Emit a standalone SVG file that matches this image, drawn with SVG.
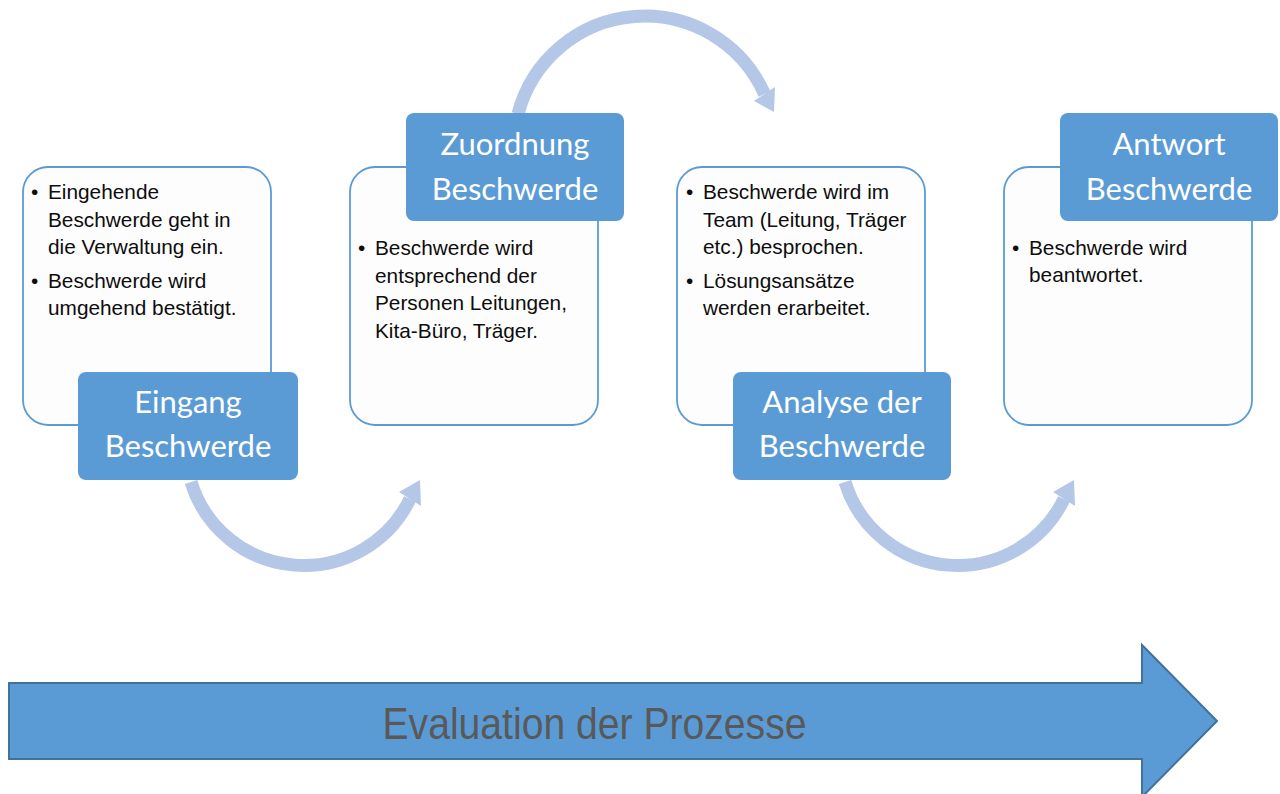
<svg xmlns="http://www.w3.org/2000/svg" width="1280" height="794" viewBox="0 0 1280 794">
<style>
.card{fill:#FDFDFD;stroke:#5B9BD5;stroke-width:1.8}
.label{fill:#5B9BD5}
.lt{font-family:Lato,"Open Sans",sans-serif;font-size:31px;fill:#FFFFFF;text-anchor:middle}
.bt{font-family:"Liberation Sans",Arial,sans-serif;font-size:20.8px;fill:#0D0D0D}
.arc{fill:none;stroke:#B4C7E7;stroke-width:13}
.head{fill:#B4C7E7}
.ev{font-family:"Liberation Sans",Arial,sans-serif;font-size:45px;fill:#595959;text-anchor:middle}
</style>
<rect width="1280" height="794" fill="#FFFFFF"/>
<g id="connectors">
<path class="arc" d="M191,482 A118,118 0 0 0 410,499"/>
<polygon class="head" points="420,480 399,492 421,506"/>
<path class="arc" d="M518,114 A131,131 0 0 1 764.5,94"/>
<polygon class="head" points="774,112 754,101 775,87"/>
<path class="arc" d="M845,482 A118,118 0 0 0 1064,499"/>
<polygon class="head" points="1074,480 1053,492 1075,506"/>
</g>
<g id="node-eingang">
<rect class="card" x="23" y="167" width="248" height="258" rx="25"/>
<text class="bt"><tspan x="31" y="199">•</tspan><tspan x="48" y="199">Eingehende</tspan><tspan x="48" y="226.5">Beschwerde geht in</tspan><tspan x="48" y="254">die Verwaltung ein.</tspan><tspan x="31" y="287.5">•</tspan><tspan x="48" y="287.5">Beschwerde wird</tspan><tspan x="48" y="315">umgehend bestätigt.</tspan></text>
<rect class="label" x="78" y="372" width="220" height="108" rx="8"/>
<text class="lt" x="188" y="413">Eingang</text>
<text class="lt" x="188" y="457">Beschwerde</text>
</g>
<g id="node-zuordnung">
<rect class="card" x="350" y="167" width="248" height="258" rx="25"/>
<text class="bt"><tspan x="358" y="255">•</tspan><tspan x="375" y="255">Beschwerde wird</tspan><tspan x="375" y="282.5">entsprechend der</tspan><tspan x="375" y="310">Personen Leitungen,</tspan><tspan x="375" y="337.5">Kita-Büro, Träger.</tspan></text>
<rect class="label" x="406" y="113" width="218" height="108" rx="8"/>
<text class="lt" x="515" y="155">Zuordnung</text>
<text class="lt" x="515" y="200">Beschwerde</text>
</g>
<g id="node-analyse">
<rect class="card" x="677" y="167" width="248" height="258" rx="25"/>
<text class="bt"><tspan x="686" y="199">•</tspan><tspan x="703" y="199">Beschwerde wird im</tspan><tspan x="703" y="226.5">Team (Leitung, Träger</tspan><tspan x="703" y="254">etc.) besprochen.</tspan><tspan x="686" y="287.5">•</tspan><tspan x="703" y="287.5">Lösungsansätze</tspan><tspan x="703" y="315">werden erarbeitet.</tspan></text>
<rect class="label" x="733" y="372" width="218" height="108" rx="8"/>
<text class="lt" x="842" y="413">Analyse der</text>
<text class="lt" x="842" y="457">Beschwerde</text>
</g>
<g id="node-antwort">
<rect class="card" x="1004" y="167" width="248" height="258" rx="25"/>
<text class="bt"><tspan x="1012" y="255">•</tspan><tspan x="1029" y="255">Beschwerde wird</tspan><tspan x="1029" y="282">beantwortet.</tspan></text>
<rect class="label" x="1060" y="113" width="218" height="108" rx="8"/>
<text class="lt" x="1169" y="155">Antwort</text>
<text class="lt" x="1169" y="200">Beschwerde</text>
</g>
<g id="node-evaluation">
<polygon points="9,683 1142,683 1142,645 1217,721 1142,797 1142,759 9,759" fill="#5B9BD5" stroke="#41719C" stroke-width="2"/>
<text class="ev" x="594.5" y="739" textLength="424" lengthAdjust="spacingAndGlyphs">Evaluation der Prozesse</text>
</g>
</svg>
